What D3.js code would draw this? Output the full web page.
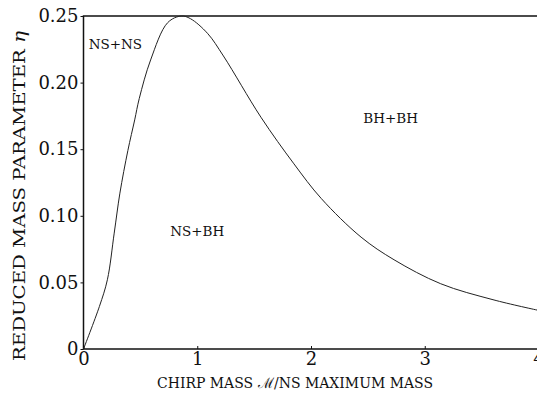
<!DOCTYPE html>
<html>
<head>
<meta charset="utf-8">
<script src="https://cdn.jsdelivr.net/npm/d3@7"></script>
<style>
  body { margin: 0; background: #fff; }
  svg text { font-family: "DejaVu Serif", "Liberation Serif", serif; fill: #111; }
</style>
</head>
<body>
<div id="chart"></div>
<script>
// values
const chirpMass = [0, 0.14, 0.21, 0.27, 0.32, 0.39, 0.45, 0.49, 0.59, 0.74, 0.86, 0.94, 1.09, 1.23, 1.56, 1.85, 2.09, 2.44, 2.73, 3.14, 3.6, 4.0];
const eta       = [0, 0.032, 0.052, 0.087, 0.117, 0.149, 0.172, 0.188, 0.217, 0.245, 0.250, 0.248, 0.237, 0.220, 0.174, 0.139, 0.113, 0.084, 0.067, 0.049, 0.037, 0.029];
const xTicks = [0, 1, 2, 3, 4];
const yTicks = [0, 0.05, 0.10, 0.15, 0.20, 0.25];
const regions = ["NS+NS", "NS+BH", "BH+BH"];
const regionX = [0.28, 1.0, 2.70];
const regionY = [0.225, 0.085, 0.17];

const width = 537, height = 394;
const margin = {top: 16, right: -1.5, bottom: 45, left: 83.5};

const svg = d3.select('#chart')
  .append('svg')
  .attr('width', width)
  .attr('height', height);

const x = d3.scaleLinear()
  .domain([0, 4])
  .range([margin.left, width - margin.right]);

const y = d3.scaleLinear()
  .domain([0, 0.25])
  .range([height - margin.bottom, margin.top]);

// frame
svg.append('rect')
  .attr('x', x(0))
  .attr('y', y(0.25))
  .attr('width', x(4) - x(0))
  .attr('height', y(0) - y(0.25))
  .attr('fill', 'none')
  .attr('stroke', '#111')
  .attr('stroke-width', 1.5);

// x axis
const xAxis = svg.append('g')
  .attr('transform', `translate(0,${y(0)})`)
  .call(d3.axisBottom(x).tickValues(xTicks).tickSize(-3).tickPadding(5).tickFormat(d3.format('d')));
xAxis.select('.domain').remove();
xAxis.selectAll('line').attr('stroke', '#111');
xAxis.selectAll('text').style('font-size', '18px').attr('dy', '0.62em');

// y axis
const yAxis = svg.append('g')
  .attr('transform', `translate(${x(0)},0)`)
  .call(d3.axisLeft(y).tickValues(yTicks).tickSize(3).tickPadding(2)
    .tickFormat(d => d === 0 ? '0' : d3.format('.2f')(d)));
yAxis.select('.domain').remove();
yAxis.selectAll('line').attr('stroke', '#111');
yAxis.selectAll('text').style('font-size', '18px');

// curve
const points = chirpMass.map((m, i) => [m, eta[i]]);
const line = d3.line()
  .x(d => x(d[0]))
  .y(d => y(d[1]))
  .curve(d3.curveCatmullRom.alpha(0.5));

svg.append('path')
  .datum(points)
  .attr('d', line)
  .attr('fill', 'none')
  .attr('stroke', '#222')
  .attr('stroke-width', 1);

// region labels
svg.selectAll('.region')
  .data(regions)
  .enter()
  .append('text')
  .attr('class', 'region')
  .attr('x', (d, i) => x(regionX[i]))
  .attr('y', (d, i) => y(regionY[i]))
  .attr('text-anchor', 'middle')
  .style('font-size', '13.5px')
  .text(d => d);

// axis titles
svg.append('text')
  .attr('x', 295)
  .attr('y', 388)
  .attr('text-anchor', 'middle')
  .attr('textLength', 276)
  .attr('lengthAdjust', 'spacingAndGlyphs')
  .style('font-size', '14.5px')
  .text('CHIRP MASS ℳ/NS MAXIMUM MASS');

const yt = svg.append('text')
  .attr('transform', 'translate(25,196) rotate(-90)')
  .attr('text-anchor', 'middle')
  .attr('textLength', 330)
  .attr('lengthAdjust', 'spacingAndGlyphs')
  .style('font-size', '16px');
yt.append('tspan').text('REDUCED MASS PARAMETER ');
yt.append('tspan').style('font-style', 'italic').text('η');
</script>
</body>
</html>
